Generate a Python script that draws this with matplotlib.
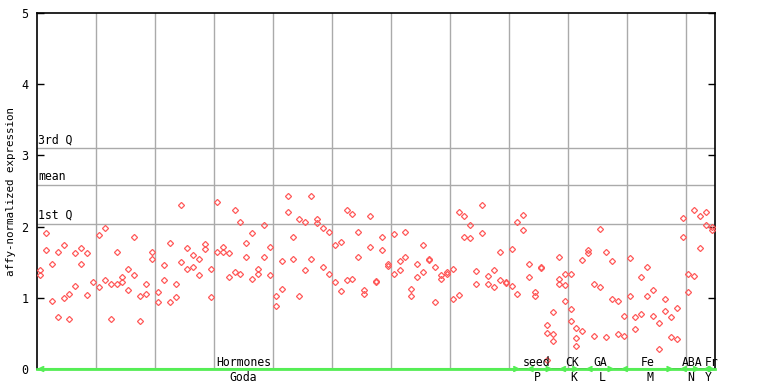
import numpy as np
import matplotlib
matplotlib.use("Agg")
import matplotlib.pyplot as plt

nan = np.nan
# replicate values per sample position (index 0..114)
rep_a = [1.39, 1.91, 1.47, 1.64, 1.74, 1.05, 1.63, 1.70, 1.63, 1.22,
         1.88, 1.98, 1.20, 1.65, 1.29, 1.41, 1.85, 1.02, 1.19, 1.65,
         1.08, 1.46, 1.77, 1.20, 2.30, 1.70, 1.60, 1.55, 1.75, 1.40,
         2.34, 1.72, 1.63, 2.23, 2.06, 1.77, 1.91, 1.41, 2.02, 1.72,
         1.03, 1.51, 2.43, 1.86, 2.10, 2.07, 2.43, 2.10, 1.98, 1.92,
         1.74, 1.79, 2.23, 2.17, 1.92, 1.11, 2.15, 1.23, 1.85, 1.47,
         1.89, 1.51, 1.93, 1.12, 1.47, 1.74, 1.55, 1.43, 1.32, 1.36,
         1.41, 2.21, 2.15, 2.02, 1.37, 2.31, 1.30, 1.39, 1.65, 1.22,
         1.68, 2.06, 2.16, 1.47, 1.08, 1.43, 0.62, 0.80, 1.58, 1.34,
         1.33, 0.57, 1.53, 1.67, 1.19, 1.96, 1.64, 1.51, 0.95, 0.75,
         1.56, 0.73, 1.29, 1.43, 1.11, 0.64, 0.99, 0.73, 0.85, 2.12,
         1.34, 2.23, 2.15, 2.20, 1.99]
rep_b = [1.32, 1.67, 0.96, 0.73, 1.00, 0.70, 1.17, 1.47, 1.04, nan,
         1.15, 1.25, 0.70, 1.20, 1.22, 1.11, 1.32, 0.68, 1.06, 1.55,
         0.94, 1.25, 0.94, 1.01, 1.50, 1.40, 1.43, 1.32, 1.68, 1.01,
         1.64, 1.64, 1.29, 1.36, 1.34, 1.58, 1.26, 1.34, 1.57, 1.32,
         0.89, 1.13, 2.21, 1.55, 1.03, 1.39, 1.54, 2.05, 1.43, 1.34,
         1.22, 1.09, 1.25, 1.27, 1.58, 1.06, 1.71, 1.22, 1.67, 1.44,
         1.33, 1.39, 1.57, 1.02, 1.29, 1.36, 1.53, 0.94, 1.27, 1.33,
         0.99, 1.04, 1.86, 1.84, 1.20, 1.91, 1.20, 1.15, 1.25, 1.21,
         1.16, 1.06, 1.95, 1.29, 1.02, 1.42, 0.50, 0.49, 1.26, 1.18,
         0.84, 0.43, 0.54, 1.63, 0.46, 1.15, 0.45, 0.98, 0.49, 0.46,
         1.02, 0.56, 0.77, 1.02, 0.74, 0.28, 0.81, 0.45, 0.42, 1.86,
         1.08, 1.30, 1.70, 2.02, 1.95]
rep_c_pos = [86, 87, 88, 89, 90, 91]
rep_c = [0.12, 0.39, 1.20, 0.96, 0.67, 0.33]

q1, mean_v, q3 = 2.04, 2.58, 3.10

cat_names = ["Hormones", "seed", "CK", "GA", "Fe", "ABA", "Fr"]
cat_codes = ["Goda", "P", "K", "L", "M", "N", "Y"]
cat_label_x = [35.1, 84.7, 90.7, 95.6, 103.5, 111.2, 114.4]
code_label_x = [34.9, 84.9, 91.0, 95.9, 103.9, 110.8, 113.9]
cat_ranges = [(0, 82), (83, 87.5), (88.5, 92), (93, 98), (99, 108), (109, 112.5), (113, 115)]

fig = plt.figure(figsize=(7.68, 3.84), dpi=100)
ax = fig.add_axes([37/768, 1-369/384, 678/768, 356/384])
mono = "DejaVu Sans Mono"

n = len(rep_a)
x = np.arange(n) + 0.5
mk = dict(marker="D", linestyle="none", markersize=3.1, markerfacecolor="none",
          markeredgecolor="#ff5a5a", markeredgewidth=0.9, zorder=4)
ax.plot(x, rep_a, **mk)
ax.plot(x, rep_b, **mk)
ax.plot(np.array(rep_c_pos) + 0.5, rep_c, **mk)

ax.set_xlim(0, 115)
ax.set_ylim(0, 5)
for gx in range(10, 115, 10):
    ax.axvline(gx, color="#aaaaaa", lw=1, zorder=1)
for gy in (q1, mean_v, q3):
    ax.axhline(gy, color="#aaaaaa", lw=1, zorder=1)
for gy, t in ((q3, "3rd Q"), (mean_v, "mean"), (q1, "1st Q")):
    ax.text(0.2, gy + 0.03, t, family=mono, fontsize=8.3, va="bottom", ha="left", zorder=5)

ax.set_xticks([])
ax.set_yticks(range(6))
ax.tick_params(axis="y", direction="in", length=5, width=1, right=True,
               labelsize=8.5, pad=6)
for lab in ax.get_yticklabels():
    lab.set_family(mono)
ax.set_ylabel("affy-normalized expression", family=mono, fontsize=7.8)
ax.yaxis.set_label_coords(-0.031, 0.5)
for s in ax.spines.values():
    s.set_linewidth(1.2)
    s.set_color("black")

# category bar along the bottom
green = "#55ee55"
ax.plot([0, 115], [0, 0], color=green, lw=2, zorder=6, clip_on=False)
for (a, b) in cat_ranges:
    ax.annotate("", xy=(a, 0), xytext=(b, 0),
                arrowprops=dict(arrowstyle="<->,head_length=0.3,head_width=0.15",
                                color=green, lw=1.5, shrinkA=0, shrinkB=0),
                annotation_clip=False, zorder=6)
for xl, t in zip(cat_label_x, cat_names):
    ax.annotate(t, xy=(xl, 0), xytext=(0, 4.7), textcoords="offset points",
                ha="center", va="center", family=mono, fontsize=8.3,
                annotation_clip=False, zorder=7)
for xl, t in zip(code_label_x, cat_codes):
    ax.annotate(t, xy=(xl, 0), xytext=(0, -6), textcoords="offset points",
                ha="center", va="center", family=mono, fontsize=8.3,
                annotation_clip=False)

fig.savefig("out.png", dpi=100)
